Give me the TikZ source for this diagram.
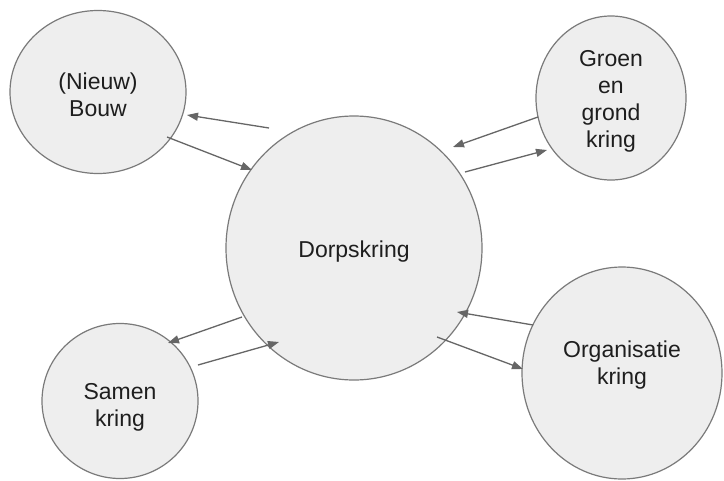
\documentclass[tikz,border=0pt]{standalone}
\usepackage{fontspec}
\setmainfont{Liberation Sans}
\usetikzlibrary{shapes.geometric,arrows.meta}
\definecolor{bubblefill}{HTML}{EEEEEE}
\definecolor{bubbleline}{HTML}{7A7A7A}
\definecolor{arrowline}{HTML}{666666}
\definecolor{labeltext}{HTML}{1E1E1E}
\tikzset{
  kring/.style={ellipse, draw=bubbleline, fill=bubblefill, line width=1.2pt,
    inner sep=0pt},
  kringtext/.style={align=center, text=labeltext, inner sep=0pt,
    font=\fontsize{23}{27}\selectfont},
  flow/.style={draw=arrowline, line width=1.3pt,
    -{Triangle[length=11pt,width=8pt]}}
}
\begin{document}
\begin{tikzpicture}[x=1pt,y=-1pt]
\useasboundingbox (0,0) rectangle (724,480);
\fill[white] (0,0) rectangle (724,480);

% circles with their labels
\node[kring, minimum width=176pt, minimum height=163pt,
  label={[kringtext, yshift=-3pt]center:(Nieuw)\\Bouw}] (bouw) at (98,92) {};
\node[kring, minimum width=150pt, minimum height=164pt,
  label={[kringtext, yshift=-3pt]center:Groen\\en\\grond\\kring}] (groen) at (611,98) {};
\node[kring, minimum width=256pt, minimum height=264pt,
  label={[kringtext, yshift=-4pt]center:Dorpskring}] (dorp) at (354,248) {};
\node[kring, minimum width=156pt, minimum height=155pt,
  label={[kringtext, yshift=-6pt]center:Samen\\kring}] (samen) at (120,401) {};
\node[kring, minimum width=200pt, minimum height=212pt,
  label={[kringtext, yshift=8pt]center:Organisatie\\kring}] (org) at (622,373) {};

% arrow end points
\coordinate (dorpToBouwA) at (269,128);
\coordinate (dorpToBouwB) at (187,115);
\coordinate (bouwToDorpA) at (167,137);
\coordinate (bouwToDorpB) at (252,170);
\coordinate (groenToDorpA) at (538,117);
\coordinate (groenToDorpB) at (453,147);
\coordinate (dorpToGroenA) at (465,172);
\coordinate (dorpToGroenB) at (547,150);
\coordinate (dorpToSamenA) at (242,317);
\coordinate (dorpToSamenB) at (168,343);
\coordinate (samenToDorpA) at (198,365);
\coordinate (samenToDorpB) at (279,342);
\coordinate (orgToDorpA) at (533,325);
\coordinate (orgToDorpB) at (457,312);
\coordinate (dorpToOrgA) at (437,337);
\coordinate (dorpToOrgB) at (523,369);

% flows
\draw[flow] (dorpToBouwA) -- (dorpToBouwB);
\draw[flow] (bouwToDorpA) -- (bouwToDorpB);
\draw[flow] (groenToDorpA) -- (groenToDorpB);
\draw[flow] (dorpToGroenA) -- (dorpToGroenB);
\draw[flow] (dorpToSamenA) -- (dorpToSamenB);
\draw[flow] (samenToDorpA) -- (samenToDorpB);
\draw[flow] (orgToDorpA) -- (orgToDorpB);
\draw[flow] (dorpToOrgA) -- (dorpToOrgB);
\end{tikzpicture}
\end{document}
